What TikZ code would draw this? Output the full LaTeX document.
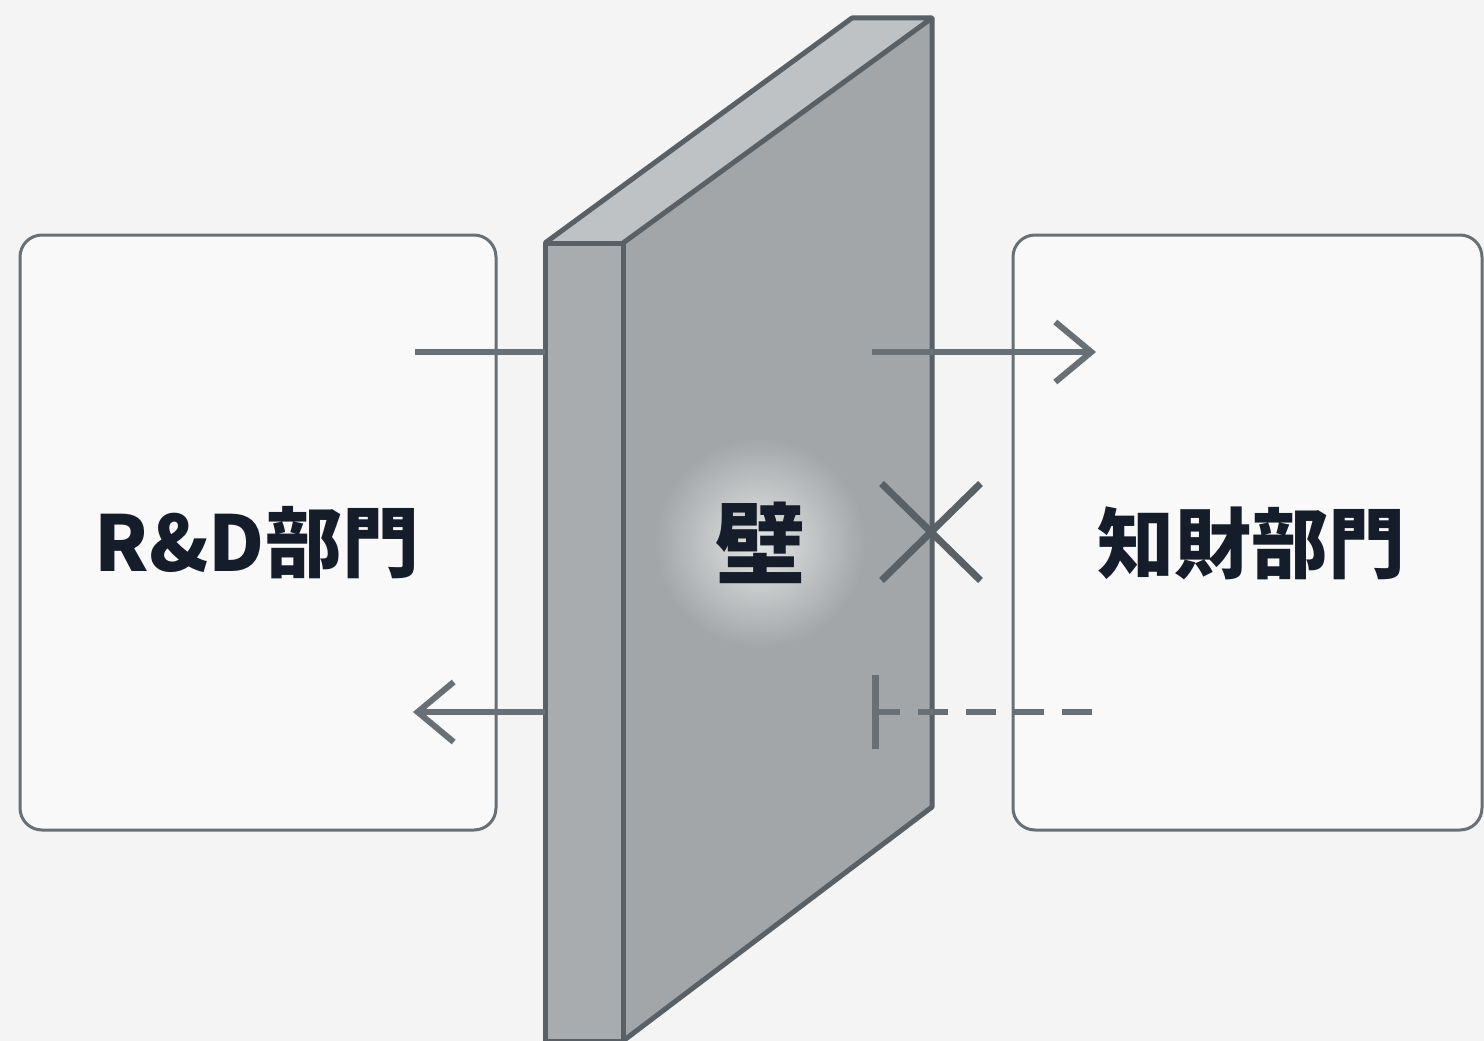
\documentclass[tikz,border=0pt]{standalone}
\usepackage{fontspec}
\setmainfont{Noto Sans CJK JP}
\usetikzlibrary{arrows.meta}
\usetikzlibrary{shapes.misc}
\usetikzlibrary{positioning}

\definecolor{bgcol}{HTML}{F3F4F3}
\definecolor{boxfill}{HTML}{F8F9F8}
\definecolor{edgecol}{HTML}{5A6166}
\definecolor{linecol}{HTML}{697075}
\definecolor{walltop}{HTML}{BEC2C4}
\definecolor{wallside}{HTML}{A9ACAE}
\definecolor{wallface}{HTML}{A2A6A8}
\definecolor{inkcol}{HTML}{151C2A}

\begin{document}
\begin{tikzpicture}[x=1pt,y=-1pt]
  \tikzset{
    dept/.style={draw=linecol, line width=3pt, fill=boxfill,
      rounded corners=22pt, minimum height=595pt, inner sep=0pt},
    deptname/.style={font=\fontsize{77}{77}\selectfont\bfseries,
      text=inkcol, inner sep=0pt},
    flow/.style={draw=linecol, line width=6pt},
    openarrow/.style={-{Straight Barb[length=36pt,width=60pt,line width=6pt]}},
    stopbar/.style={-{Bar[width=74pt,line width=6.5pt]}},
    wallline/.style={draw=edgecol, line width=5pt, line join=round},
  }
  \useasboundingbox (0,0) rectangle (1484,1041);
  \fill[bgcol] (0,0) rectangle (1484,1041);

  % departments
  \node[dept, minimum width=476pt] (rdbox) at (258,532.5) {};
  \node[dept, minimum width=469pt] (ipbox) at (1247.5,532.5) {};
  \node[deptname] (rd) at (257,543) {R\&D部門};
  \node[deptname] (ip) at (1251,543) {知財部門};

  % the wall
  \fill[wallside] (545,243) rectangle (623,1041);
  \fill[walltop] (545,243) -- (623,243) -- (932,18) -- (852,18) -- cycle;
  \fill[wallface] (623,243) -- (932,18) -- (932,807) -- (623,1041) -- cycle;
  \shade[inner color=white!70!wallface, outer color=wallface] (760,543) circle (105pt);
  \draw[wallline] (545,243) rectangle (623,1041);
  \draw[wallline] (545,243) -- (852,18) -- (932,18) -- (623,243);
  \draw[wallline] (932,18) -- (932,807) -- (623,1041);
  \node[deptname, font=\fontsize{90}{90}\selectfont\bfseries] (wall) at (760,543) {壁};

  % flows
  \coordinate (rdout) at (415,352);
  \coordinate (wallin) at (545,352);
  \coordinate (wallout) at (872,352);
  \coordinate (ipin) at (1096,352);
  \coordinate (wallback) at (545,712);
  \coordinate (rdin) at (413,712);
  \coordinate (ipout) at (1092,712);
  \coordinate (wallstop) at (872,712);

  \draw[flow] (rdout) -- (wallin);
  \draw[flow, openarrow] (wallout) -- (ipin);
  \draw[flow, openarrow] (wallback) -- (rdin);
  \draw[flow, stopbar, dash pattern=on 30pt off 18pt] (ipout) -- (wallstop);

  \node[cross out, draw=edgecol, line width=7pt, minimum width=92pt,
    minimum height=90pt] (block) at (931,532) {};
\end{tikzpicture}
\end{document}
